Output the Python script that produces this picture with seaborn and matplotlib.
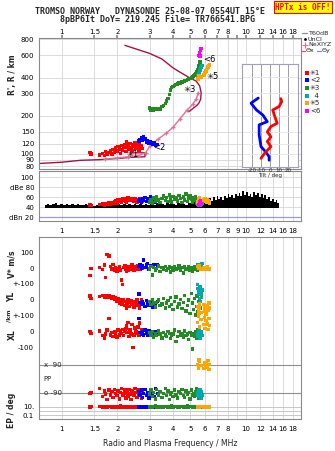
import numpy as np
import pandas as pd
import matplotlib
matplotlib.use("Agg")
import matplotlib.pyplot as plt
import seaborn as sns

sns.set_theme(style="white")
plt.rcParams['font.family'] = ['DejaVu Sans']

# ---------------- data ----------------
freq_ticks = [1, 1.5, 2, 3, 4, 5, 6, 7, 8, 9, 10, 12, 14, 16, 18]
freq_labels_top = ["1", "1.5", "2", "3", "4", "5", "6", "7", "8", "", "10", "12", "14", "16", "18"]
freq_labels_mid = ["1", "1.5", "2", "3", "4", "5", "6", "7", "8", "9", "10", "12", "14", "16", "18"]
range_ticks = [80, 90, 100, 120, 150, 200, 300, 400, 600, 800]

# cluster 1 (red)
f_red = [1.42, 1.44, 1.60, 1.66, 1.70, 1.73, 1.76, 1.80, 1.84, 1.87, 1.90, 1.93, 1.96, 1.99, 2.02, 2.05, 2.08, 2.11, 2.14, 2.17,
         2.20, 2.23, 2.26, 2.29, 2.32, 2.35, 2.38, 2.41, 2.44, 2.47, 2.50, 2.53, 2.56, 2.59, 2.62, 2.65, 2.68, 2.71, 2.74, 2.25]
R_red = [103, 100, 98, 101, 97, 104, 99, 102, 106, 100, 108, 103, 111, 105, 114, 109, 101, 116, 107, 112,
         119, 104, 113, 117, 108, 121, 112, 106, 118, 114, 123, 110, 119, 115, 107, 120, 113, 117, 110, 124]
amp_red = [44, 43, 45, 46, 44, 47, 45, 48, 46, 49, 47, 50, 52, 48, 54, 51, 55, 50, 56, 53,
           57, 52, 55, 58, 54, 56, 53, 57, 55, 52, 56, 54, 50, 55, 53, 57, 51, 54, 52, 49]
V_red = [-45, 0, 5, -8, 20, -60, 90, 80, 10, -5, 25, -15, 5, -20, 0, 10, -10, -75, -105, 5,
         15, -5, 10, -12, 0, 8, -5, 20, 0, -10, 12, 5, -8, 15, 0, 25, -5, 10, 3, -20]
YL_red = [26, 10, 22, 28, 15, 30, 20, 25, 18, 10, 22, 5, 15, -10, 8, -20, 0, -30, -15, 5,
          -35, -10, -25, 0, -40, -15, -5, -30, -20, -45, -10, -25, 5, -35, -15, -50, -20, 0, -10, -55]
XL_red = [0, -10, 5, -25, -40, -15, 10, 86, -20, -5, -30, 0, -15, -35, 10, -20, 5, -10, 15, -25,
          0, 20, -5, 60, -30, 10, -15, 45, -100, -20, 25, 0, -10, 30, -25, 55, -5, 15, -15, 40]
PP_red = [-90, -85, -60, -110, -75, -95, -130, -70, -100, -80, -115, -65, -90, -105, -75, -125, -85, -60, -100, -95,
          -70, -120, -80, -110, -65, -95, -130, -75, -90, -105, -60, -85, -115, -70, -100, -80, -95, -120, -75, -90]
EP_red = [8, 10, 12, 9, 7, 11, 8, 10, 13, 9, 7, 12, 10, 8, 11, 9, 14, 7, 10, 12,
          8, 9, 11, 13, 7, 10, 9, 12, 8, 11, 10, 7, 12, 9, 8, 11, 10, 13, 9, 8]

# cluster 2 (blue)
f_blue = [2.62, 2.66, 2.70, 2.74, 2.78, 2.83, 2.88, 2.93, 2.98, 3.03, 3.10, 3.17, 3.24, 3.32]
R_blue = [126, 130, 134, 128, 137, 131, 124, 128, 121, 125, 118, 122, 116, 119]
amp_blue = [52, 55, 50, 57, 53, 59, 51, 56, 54, 60, 52, 57, 49, 55]
V_blue = [10, 25, 0, 15, 53, 5, 20, 30, -5, 15, 10, 25, 0, 20]
YL_blue = [38, -15, -30, -10, -25, -40, -5, -20, -35, -15, -45, -25, -30, -10]
XL_blue = [86, -5, -15, 0, -20, 10, -10, -25, 5, -15, -5, -20, 0, -10]
PP_blue = [-80, -100, -70, -115, -90, -65, -105, -85, -120, -75, -95, -110, -60, -90]
EP_blue = [9, 11, 8, 12, 10, 7, 13, 9, 11, 8, 10, 12, 9, 7]

# cluster 3 (green)
f_green = [3.00, 3.05, 3.10, 3.16, 3.22, 3.28, 3.35, 3.42, 3.50, 3.58, 3.65, 3.72, 3.78, 3.84, 3.90, 3.96, 4.03, 4.10, 4.18, 4.26,
           4.34, 4.42, 4.50, 4.58, 4.66, 4.74, 4.82, 4.90, 4.98, 5.06, 5.13, 5.20, 5.26, 5.32, 5.38, 5.43, 5.48, 5.53, 5.58, 5.65]
R_green = [230, 222, 226, 220, 227, 223, 229, 224, 236, 242, 250, 262, 272, 295, 318, 335, 340, 348, 352, 356,
           362, 360, 368, 372, 375, 380, 384, 390, 395, 398, 404, 410, 418, 425, 432, 445, 458, 478, 500, 530]
amp_green = [50, 55, 48, 58, 52, 60, 54, 49, 57, 62, 53, 59, 51, 64, 56, 50, 61, 55, 58, 52,
             63, 57, 49, 60, 54, 66, 51, 58, 62, 55, 50, 59, 53, 61, 56, 48, 57, 52, 54, 50]
V_green = [-5, 10, -42, 5, -10, 0, 15, -20, 5, -8, 12, -15, 0, 8, -25, 5, -10, 10, -5, 0,
           15, -12, 5, -30, 8, -5, 0, 10, -10, 5, -18, 0, 12, -5, 8, 0, -10, 15, 5, -8]
YL_green = [-10, -30, 5, -20, -45, -15, 0, -35, -25, 10, -50, -20, -5, -40, 15, -30, -60, -10, 20, -45,
            -25, 5, -55, -15, 30, -70, -35, 0, -85, 40, -20, -60, 10, -95, -40, 25, -75, -10, 50, -50]
XL_green = [-5, -20, 0, -35, -10, -25, 5, -15, -40, -5, -20, -30, 0, -10, -45, -25, -15, 10, -64, -30,
            0, -20, -10, -35, 5, -25, -15, -50, -5, -20, -111, -10, -30, 0, -40, -15, 10, -25, -5, -20]
PP_green = [-95, -70, -110, -85, -125, -65, -100, -80, -115, -90, -60, -105, -75, -130, -95, -85, -110, -70, -100, -120,
            -80, -90, -65, -105, -115, -75, -95, -85, -125, -70, -100, -90, -110, -80, -60, -95, -105, -85, -120, -75]
EP_green = [9, 12, 8, 10, 14, 7, 11, 9, 13, 8, 10, 12, 7, 9, 11, 15, 8, 10, 12, 9,
            7, 13, 10, 8, 11, 9, 14, 7, 10, 12, 8, 11, 9, 13, 10, 8, 12, 9, 11, 7]

# cluster 4 (cyan)
f_cyan = [5.45, 5.50, 5.53, 5.56, 5.60, 5.63, 5.66, 5.70, 5.74, 5.78]
R_cyan = [400, 410, 420, 432, 445, 455, 466, 478, 488, 496]
amp_cyan = [46, 48, 45, 50, 47, 44, 49, 46, 52, 48]
V_cyan = [5, 25, 10, 0, 18, 8, 22, -3, 12, 30]
YL_cyan = [100, 75, 36, 55, 10, 85, -10, 45, 20, 65]
XL_cyan = [-30, -10, 5, -20, 10, -40, -5, -15, 0, -25]
PP_cyan = [-85, -100, -75, -110, -90, -70, -95, -120, -80, -100]
EP_cyan = [10, 9, 12, 8, 11, 10, 9, 13, 8, 10]

# cluster 5 (orange)
f_orange = [5.48, 5.55, 5.62, 5.70, 5.58, 5.92, 5.97, 6.02, 6.07, 6.12, 6.18, 6.24, 6.30, 6.36]
R_orange = [392, 386, 400, 405, 412, 418, 428, 440, 450, 462, 472, 485, 495, 507]
amp_orange = [50, 54, 58, 52, 56, 55, 53, 57, 51, 49, 54, 52, 50, 48]
V_orange = [10, 0, 5, -5, 15, 3, -8, 5, 0, -5, 8, -3, 0, -6]
YL_orange = [-40, -60, -25, -80, -50, -30, -70, -45, -90, -55, -35, -65, -20, -50]
XL_orange = [60, 100, 30, 80, 120, 45, 90, 20, 70, 110, 50, 15, 85, 40]
PP_orange = [90, 70, 110, 85, 120, 65, 95, 105, 75, 100, 80, 115, 60, 90]
EP_orange = [9, 11, 8, 10, 12, 9, 7, 10, 11, 8, 12, 9, 10, 8]

# cluster 6 (magenta)
f_mag = [5.58, 5.62, 5.66, 5.70, 5.64]
R_mag = [600, 625, 650, 675, 590]
amp_mag = [44, 50, 53, 47, 49]

# unclassified echo amplitude (black)
noise_f = [0.81, 0.84, 0.87, 0.90, 0.93, 0.96, 1.00, 1.03, 1.07, 1.10, 1.14, 1.18, 1.22, 1.26, 1.31, 1.35, 1.40, 1.45,
           1.50, 1.55, 1.60, 1.66, 1.72, 1.78, 1.84, 1.90, 1.97, 2.04, 2.11, 2.18, 2.26, 2.34, 2.42, 2.50, 2.59, 2.68,
           2.77, 2.87, 2.97, 3.07, 3.18, 3.29, 3.40, 3.52, 3.64, 3.77, 3.90, 4.03, 4.17, 4.32, 4.47, 4.62, 4.78, 4.95,
           5.12, 5.30, 5.48, 5.60, 5.72, 5.85, 5.98, 6.12, 6.26, 6.40, 6.55, 6.70, 6.86, 7.02, 7.18, 7.35, 7.52, 7.70,
           7.88, 8.06, 8.25, 8.44, 8.64, 8.84, 9.05, 9.26, 9.48, 9.70, 9.92, 10.15, 10.4, 10.6, 10.9, 11.1, 11.4, 11.6,
           11.9, 12.2, 12.5, 12.8, 13.1, 13.4, 13.7, 14.0, 14.4, 14.7, 15.0, 15.2]
noise_a = [45, 47, 44, 46, 48, 45, 47, 44, 46, 45, 47, 44, 46, 45, 44, 46, 44, 45,
           43, 45, 44, 46, 45, 47, 45, 46, 44, 47, 45, 46, 44, 47, 45, 46, 44, 47,
           45, 46, 44, 47, 45, 48, 46, 47, 45, 48, 46, 47, 45, 48, 46, 47, 45, 48,
           46, 50, 47, 52, 48, 55, 50, 53, 49, 58, 52, 60, 54, 62, 56, 60, 55, 63,
           58, 66, 60, 64, 58, 66, 62, 68, 63, 72, 65, 70, 62, 67, 60, 70, 64, 68,
           60, 66, 58, 64, 57, 60, 53, 56, 51, 54, 49, 47]
noise_floor = 39

# model / profile curves (top panel)
low_f = [0.75, 1.0, 1.26, 1.6, 2.0, 2.4, 2.83, 2.83, 2.35]
low_R = [84, 86, 89, 90, 92, 94, 95, 102, 102]
arc_f = [2.2, 2.66, 3.0, 3.5, 4.02, 4.4, 4.95, 5.38, 5.62, 5.72, 5.69, 5.55, 5.38, 5.1, 4.9]
arc_R = [718, 656, 620, 560, 477, 440, 398, 375, 343, 304, 270, 250, 239, 225, 215]
ne_f = [1.72, 2.0, 2.3, 2.6, 2.85, 3.02, 3.34, 3.7, 4.02, 4.4, 4.8, 5.16, 5.38, 5.5]
ne_R = [91, 93, 95, 97, 102, 116, 131, 146, 162, 190, 222, 247, 270, 300]

# tilt inset
tilt_x = [12, 13, 10, 3, 6, 8, 1, -3, 1, -3, 1, -6, -10]
tiltx_R = [272, 258, 236, 222, 191, 175, 165, 150, 137, 126, 115, 102, 93]
tilt_y = [-13, -21, -15, -8, -3, -12, -12, -10, -5, -1, -1]
tilty_R = [275, 251, 222, 203, 180, 170, 142, 115, 105, 96, 90]

cluster_colors = {"1": "#ff0000", "2": "#0000ff", "3": "#228b22", "4": "#00aaaa", "5": "#ffa500", "6": "#ff00ff"}
cluster_names = ["\u27331", "<2", "\u27333", "  4", "\u27335", "<6"]

# ---------------- tables ----------------
def block(c, f, R, amp, V=None, YL=None, XL=None, PP=None, EP=None):
    n = len(f)
    nanl = [np.nan] * n
    return pd.DataFrame({"c": c, "f": f, "R": R, "amp": amp,
                         "V": V if V is not None else nanl, "YL": YL if YL is not None else nanl,
                         "XL": XL if XL is not None else nanl, "PP": PP if PP is not None else nanl,
                         "EP": EP if EP is not None else nanl})

echo = pd.concat([
    block("1", f_red, R_red, amp_red, V_red, YL_red, XL_red, PP_red, EP_red),
    block("2", f_blue, R_blue, amp_blue, V_blue, YL_blue, XL_blue, PP_blue, EP_blue),
    block("3", f_green, R_green, amp_green, V_green, YL_green, XL_green, PP_green, EP_green),
    block("4", f_cyan, R_cyan, amp_cyan, V_cyan, YL_cyan, XL_cyan, PP_cyan, EP_cyan),
    block("5", f_orange, R_orange, amp_orange, V_orange, YL_orange, XL_orange, PP_orange, EP_orange),
    block("6", f_mag, R_mag, amp_mag),
], ignore_index=True)

# lower panel: strips stacked in a pixel-like coordinate
Vc, Yc, Xc, k = 268.3, 300.0, 331.7, 0.156
PPc, kpp = 379.0, 0.159
EPc, kep = 406.7, 4.3
echo["yV"] = Vc - k * echo["V"]
echo["yYL"] = Yc - k * echo["YL"]
echo["yXL"] = Xc - k * echo["XL"]
echo["yPP"] = PPc - kpp * echo["PP"]
echo["yEP"] = EPc + (1 - np.log10(echo["EP"])) * kep
low = echo.melt(id_vars=["c", "f"], value_vars=["yV", "yYL", "yXL", "yPP", "yEP"], value_name="y").dropna()

# ---------------- figure ----------------
W, H = 335, 451
fig = plt.figure(figsize=(W / 100, H / 100), dpi=100)

def rect(l, t, r, b):
    return [l / W, 1 - b / H, (r - l) / W, (b - t) / H]

ax_top = fig.add_axes(rect(39, 38, 301, 169))
ax_amp = fig.add_axes(rect(39, 171, 301, 221))
ax_low = fig.add_axes(rect(39, 237, 301, 419))

grid_c = "#d6d6d6"
frame_c = "#8a8a8a"
fs = 5

for ax in (ax_top, ax_amp, ax_low):
    ax.set_xscale("log")
    ax.set_xlim(0.75, 20)
    ax.set_xticks(freq_ticks)
    ax.xaxis.set_minor_locator(matplotlib.ticker.NullLocator())
    for x in freq_ticks:
        ax.axvline(x, color=grid_c, lw=0.6, zorder=0)
    for s in ax.spines.values():
        s.set_color(frame_c)
        s.set_linewidth(0.8)
    ax.tick_params(axis="both", labelsize=fs, length=2, pad=1.5, color=frame_c, colors="black")
    ax.set_xlabel("")
    ax.set_ylabel("")

# --- top panel ---
ax_top.set_yscale("log")
ax_top.set_ylim(76, 820)
ax_top.set_yticks(range_ticks)
ax_top.set_yticklabels([str(v) for v in range_ticks])
ax_top.yaxis.set_minor_locator(matplotlib.ticker.NullLocator())
for r in range_ticks:
    ax_top.axhline(r, color=grid_c, lw=0.6, zorder=0)
ax_top.xaxis.tick_top()
ax_top.set_xticklabels(freq_labels_top)
ax_top.tick_params(axis="x", pad=0.5)

sns.lineplot(x=low_f, y=low_R, sort=False, estimator=None, color="#a8123e", lw=1.0, ax=ax_top)
sns.lineplot(x=arc_f, y=arc_R, sort=False, estimator=None, color="#a8123e", lw=1.0, ax=ax_top)
sns.lineplot(x=ne_f, y=ne_R, sort=False, estimator=None, color="#e0709a", lw=1.0,
             marker="+", markersize=3.5, markeredgewidth=0.9, markeredgecolor="#e0709a", ax=ax_top)
sns.scatterplot(data=echo, x="f", y="R", hue="c", palette=cluster_colors, marker="s", s=6,
                linewidth=0, legend=False, ax=ax_top, zorder=3)
ax_top.set_xlabel("")
ax_top.set_ylabel("")
lbl_pos = [(2.25, 99, "\u27331"), (3.12, 112, "<2"), (4.6, 322, "\u27333"), (6.1, 410, "\u27335"), (5.85, 560, "<6")]
for fx, ry, t in lbl_pos:
    ax_top.text(fx, ry, t, fontsize=6, color="black", ha="left", va="center", zorder=5)

# --- amplitude panel ---
ax_amp.set_ylim(12, 112)
ax_amp.set_yticks([20, 40, 60, 80, 100])
ax_amp.set_yticklabels(["dBn 20", "40", "60", "dBe 80", "100"])
for v in [40, 60, 80, 100]:
    ax_amp.axhline(v, color=grid_c, lw=0.6, zorder=0)
ax_amp.axhline(20, color="#9a9ae0", lw=0.9, zorder=0)
ax_amp.fill_between(noise_f, noise_floor, noise_a, step="mid", color="black", lw=0, zorder=2)
sns.scatterplot(data=echo, x="f", y="amp", hue="c", palette=cluster_colors, marker="s", s=6,
                linewidth=0, legend=False, ax=ax_amp, zorder=3)
ax_amp.set_xticklabels(freq_labels_mid)
ax_amp.tick_params(axis="x", pad=3)
ax_amp.set_xlabel("")
ax_amp.set_ylabel("")

# --- lower panel ---
ax_low.set_ylim(419, 237)
low_ticks = [Vc - k * 100, Vc, Vc + k * 100, Yc, Yc + k * 100, Xc, Xc + k * 100, EPc, EPc + 2 * kep]
low_labels = ["100", "0", "+-100", "0", "+-100", "0", "-100", "10.", "0.1"]
ax_low.set_yticks(low_ticks)
ax_low.set_yticklabels(low_labels)
for y in [PPc - kpp * 90, PPc + kpp * 90]:
    ax_low.axhline(y, color="#909090", lw=0.8, zorder=1)
for y in [EPc, EPc + kep, EPc + 2 * kep]:
    ax_low.axhline(y, color="#c8c8c8", lw=0.7, zorder=1)
sns.scatterplot(data=low, x="f", y="y", hue="c", palette=cluster_colors, marker="s", s=6,
                linewidth=0, legend=False, ax=ax_low, zorder=3)
ax_low.set_xticklabels(freq_labels_top)
ax_low.tick_params(axis="x", pad=3)
ax_low.set_xlabel("Radio and Plasma Frequency / MHz", fontsize=5.5, labelpad=5)
ax_low.set_ylabel("")
ax_low.text(0.80, PPc - kpp * 90, "x  90", fontsize=fs, va="center", ha="left")
ax_low.text(0.79, PPc, "PP", fontsize=fs, va="center", ha="left")
ax_low.text(0.80, PPc + kpp * 90, "o -90", fontsize=fs, va="center", ha="left")

# --- tilt inset ---
ax_in = fig.add_axes(rect(242, 64, 298, 167))
ax_in.set_facecolor("white")
ax_in.set_yscale("log")
ax_in.set_ylim(79.7, 507)
ax_in.set_xlim(-31, 31)
for x in [-20, -10, 0, 10, 20]:
    ax_in.axvline(x, color="#a0a0a0", lw=0.7, zorder=0)
for r in [100, 120, 150, 200, 300, 400]:
    ax_in.axhline(r, color="#e4e4e4", lw=0.6, zorder=0)
sns.lineplot(x=tilt_y, y=tilty_R, sort=False, estimator=None, color="#0000ff", lw=2.0, ax=ax_in)
sns.lineplot(x=tilt_x, y=tiltx_R, sort=False, estimator=None, color="#ff0000", lw=2.0, ax=ax_in)
ax_in.set_xticks([-20, -10, 0, 10, 20])
ax_in.set_xticklabels(["-20", "-10", "0", "10", "20"])
ax_in.set_yticks([])
ax_in.yaxis.set_minor_locator(matplotlib.ticker.NullLocator())
ax_in.tick_params(axis="x", labelsize=4, length=0, pad=0.5)
ax_in.set_xlabel("Tilt / deg", fontsize=4, labelpad=0)
ax_in.set_ylabel("")
for s in ax_in.spines.values():
    s.set_color("#a0a0b8")
    s.set_linewidth(0.8)

# --- axis titles ---
def ftext(x, y, t, **kw):
    fig.text(x / W, 1 - y / H, t, **kw)

ftext(12, 75, "R', R / km", rotation=90, ha="center", va="center", fontsize=5.5, fontweight="bold")
ftext(12, 264, "V* m/s", rotation=90, ha="center", va="center", fontsize=5.5, fontweight="bold")
ftext(12, 297, "YL", rotation=90, ha="center", va="center", fontsize=5.5, fontweight="bold")
ftext(9, 315.5, "/km", rotation=90, ha="center", va="center", fontsize=4.3, fontweight="bold")
ftext(12, 335, "XL", rotation=90, ha="center", va="center", fontsize=5.5, fontweight="bold")
ftext(12, 410, "EP / deg", rotation=90, ha="center", va="center", fontsize=5.5, fontweight="bold")

ftext(150, 12, "TROMSO NORWAY   DYNASONDE 25-08-07 0554UT 15\u00b0E", ha="center", va="center",
      fontsize=6, family="DejaVu Sans Mono", fontweight="bold")
ftext(157, 20, "8pBP6It DoY= 219.245 File= TR766541.BPG", ha="center", va="center",
      fontsize=6, family="DejaVu Sans Mono", fontweight="bold")
ftext(303, 7, "HPTx is OFF!", ha="center", va="center", fontsize=5.5, color="red",
      family="DejaVu Sans Mono", fontweight="bold",
      bbox=dict(boxstyle="square,pad=0.2", facecolor="#ffff00", edgecolor="red", lw=0.8))

# --- legend ---
ax_leg = fig.add_axes(rect(300, 28, 335, 116))
ax_leg.set_xlim(300, 335)
ax_leg.set_ylim(116, 28)
ax_leg.axis("off")
lfs = 4.6
ax_leg.plot([302, 306.5], [33.5, 33.5], color="#909090", lw=0.9)
ax_leg.text(308, 33.5, "T60dB", fontsize=lfs, va="center")
ax_leg.plot([304.5], [39.3], marker=".", color="black", ms=2)
ax_leg.text(308, 39.3, "UnCl", fontsize=lfs, va="center")
ax_leg.plot([304.5], [45], marker="+", color="#e0709a", ms=4, mew=0.8)
ax_leg.text(308, 45, "NeXIYZ", fontsize=lfs, va="center")
ax_leg.plot([301, 305], [50.8, 50.8], color="#e05070", lw=0.9)
ax_leg.text(306, 50.8, "\u0398x", fontsize=lfs, va="center")
ax_leg.plot([316.5, 320.5], [50.8, 50.8], color="#8080ff", lw=0.9)
ax_leg.text(321.5, 50.8, "\u0398y", fontsize=lfs, va="center")
leg_y = [72.7, 80.3, 87.9, 95.5, 103.1, 110.7]
for (key, col), name, yy in zip(cluster_colors.items(), cluster_names, leg_y):
    ax_leg.plot([306.5], [yy], marker="s", color=col, ms=2.6, mew=0)
    ax_leg.text(310, yy, name, fontsize=5, va="center")

fig.savefig("out.png", dpi=100)
